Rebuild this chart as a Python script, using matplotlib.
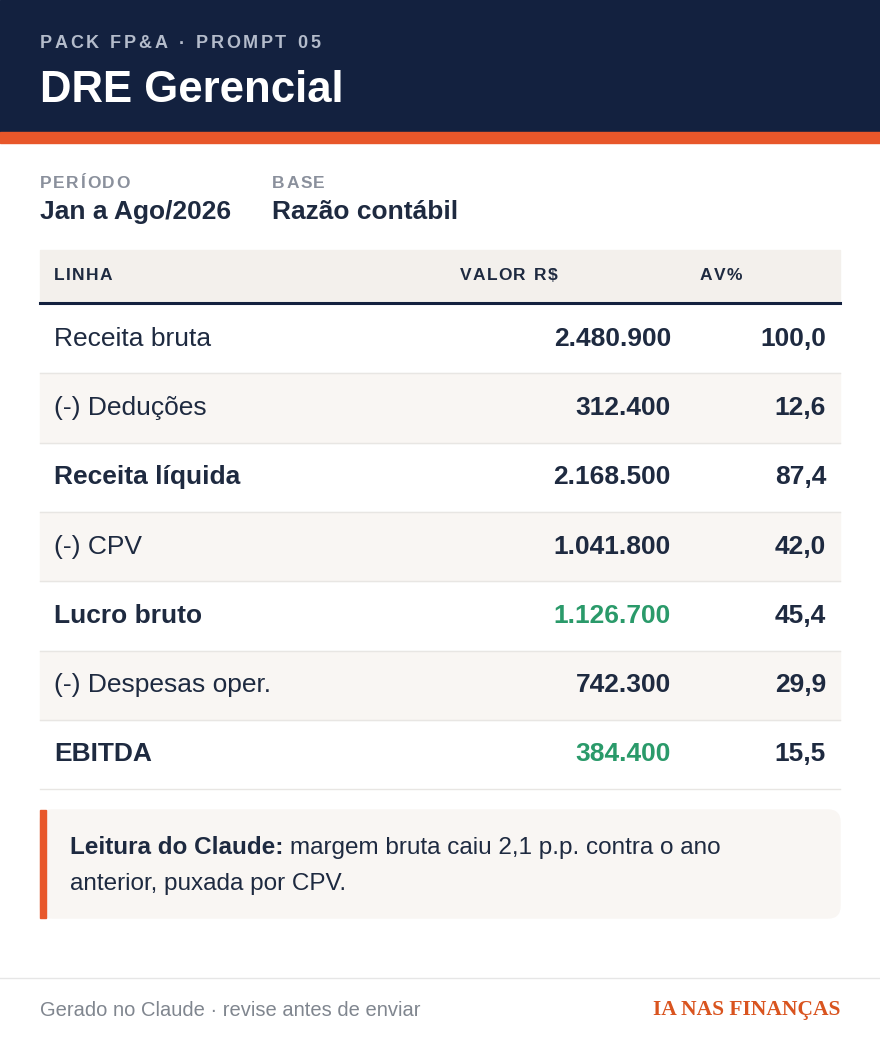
import matplotlib
matplotlib.use("Agg")
import matplotlib.pyplot as plt
from matplotlib.patches import Rectangle, FancyBboxPatch

lines = ["Receita bruta", "(-) Deduções", "Receita líquida", "(-) CPV", "Lucro bruto", "(-) Despesas oper.", "EBITDA"]
values = ["2.480.900", "312.400", "2.168.500", "1.041.800", "1.126.700", "742.300", "384.400"]
av = ["100,0", "12,6", "87,4", "42,0", "45,4", "29,9", "15,5"]
bold_rows = [False, False, True, False, True, False, True]
green_rows = [False, False, False, False, True, False, True]
headers = ["LINHA", "VALOR R$", "AV%"]

NAVY = "#13213f"; ORANGE = "#e8572a"; TXT = "#1e2a40"; GREEN = "#2a9a6a"
SHADE = "#f9f6f3"; HDR = "#f3f0ec"; GREY = "#8a909c"
plt.rcParams['font.family'] = ['Liberation Sans', 'DejaVu Sans']

fig = plt.figure(figsize=(8.8, 10.4), dpi=100)
ax = fig.add_axes([0, 0, 1, 1])
ax.set_xlim(0, 880); ax.set_ylim(1040, 0); ax.axis("off")
fig.patch.set_facecolor("white")
R = fig.canvas.get_renderer()

def width(t):
    return t.get_window_extent(renderer=R).width

def tracked(x, y, s, track, **kw):
    for ch in s:
        t = ax.text(x, y, ch, va="center", **kw)
        x += width(t) + track if ch != " " else width(ax.text(0, -100, "n", **kw)) * 0.55 + track

ax.add_patch(Rectangle((0, 0), 880, 132, color=NAVY))
ax.add_patch(Rectangle((0, 132), 880, 11, color=ORANGE))
tracked(40, 44, "PACK FP&A · PROMPT 05", 2.6, color="#b4bccb", fontsize=13, fontweight="bold")
ax.text(40, 90, "DRE Gerencial", color="white", fontsize=31.5, fontweight="bold", va="center")

tracked(40, 184, "PERÍODO", 1.6, color=GREY, fontsize=12.5, fontweight="bold")
ax.text(40, 212, "Jan a Ago/2026", color=TXT, fontsize=19, fontweight="bold", va="center")
tracked(272, 184, "BASE", 1.6, color=GREY, fontsize=12.5, fontweight="bold")
ax.text(272, 212, "Razão contábil", color=TXT, fontsize=19, fontweight="bold", va="center")

ax.add_patch(Rectangle((40, 250), 800, 52, color=HDR))
ax.plot([40, 840], [302.5, 302.5], color=NAVY, lw=2.2)
for h, x in zip(headers, [54, 460, 700]):
    tracked(x, 276, h, 1.2, color=TXT, fontsize=12.5, fontweight="bold")

rh = 69.3
for i, (l, v, a, b, g) in enumerate(zip(lines, values, av, bold_rows, green_rows)):
    top = 304 + i * rh
    if i % 2 == 1:
        ax.add_patch(Rectangle((40, top), 800, rh, color=SHADE))
    ax.plot([40, 840], [top + rh, top + rh], color="#e8e6e3", lw=1)
    yc = top + rh / 2
    ax.text(54, yc, l, color=TXT, fontsize=19, fontweight="bold" if b else "normal", va="center")
    ax.text(671, yc, v, color=GREEN if g else TXT, fontsize=19, fontweight="bold", va="center", ha="right")
    ax.text(826, yc, a, color=TXT, fontsize=19, fontweight="bold", va="center", ha="right")

ax.add_patch(FancyBboxPatch((40, 810), 800, 108, boxstyle="round,pad=0,rounding_size=12", color=SHADE))
ax.add_patch(Rectangle((40, 810), 6, 108, color=ORANGE))
tb = ax.text(70, 848, "Leitura do Claude:", color=TXT, fontsize=17.5, fontweight="bold", va="center")
ax.text(70 + width(tb) + 6, 848, "margem bruta caiu 2,1 p.p. contra o ano", color=TXT, fontsize=17.5, va="center")
ax.text(70, 884, "anterior, puxada por CPV.", color=TXT, fontsize=17.5, va="center")

ax.plot([0, 880], [978, 978], color="#e6e6e6", lw=1)
ax.text(40, 1010, "Gerado no Claude · revise antes de enviar", color="#80868f", fontsize=14.5, va="center")
ax.text(840, 1010, "IA NAS FINANÇAS", color="#d9541f", fontsize=15.5, fontweight="bold", va="center", ha="right", family="Liberation Serif")

fig.savefig("out.png", dpi=100)
